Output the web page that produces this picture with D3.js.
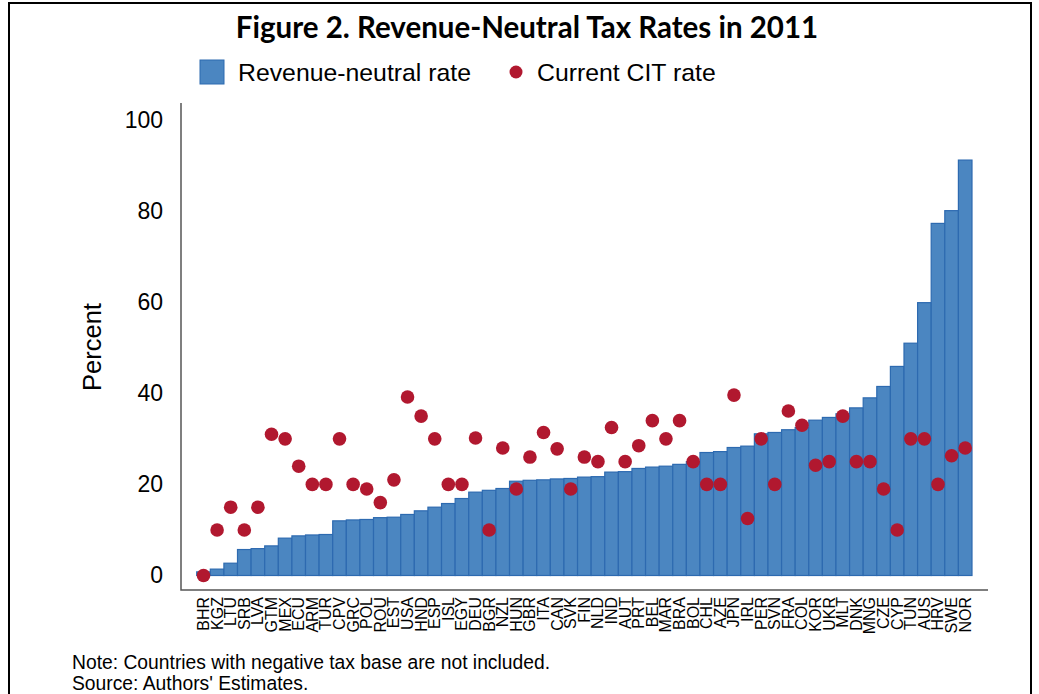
<!DOCTYPE html>
<html>
	<head>
		<meta charset="utf-8">
		<style type="text/css">
			body { margin: 0; background: white; }
			svg  { display: block; }
		</style>
		<title>Revenue-Neutral Tax Rates in 2011</title>
	</head>
	<body>
		<script src="https://cdn.jsdelivr.net/npm/d3@7/dist/d3.min.js"></script>
		<script>

// data //////////////////////////////////////////////////////////////////

var countries = ['BHR','KGZ','LTU','SRB','LVA','GTM','MEX','ECU','ARM','TUR',
	'CPV','GRC','POL','ROU','EST','USA','HND','ESP','ISL','EGY',
	'DEU','BGR','NZL','HUN','GBR','ITA','CAN','SVK','FIN','NLD',
	'IND','AUT','PRT','BEL','MAR','BRA','BOL','CHL','AZE','JPN',
	'IRL','PER','SVN','FRA','COL','KOR','UKR','MLT','DNK','MNG',
	'CZE','CYP','TUN','AUS','HRV','SWE','NOR'];

var neutral = [0.8, 1.4, 2.7, 5.7, 5.9, 6.5, 8.2, 8.7, 8.9, 9.0,
	12.0, 12.2, 12.3, 12.7, 12.8, 13.4, 14.2, 15.0, 15.8, 16.9,
	18.3, 18.7, 19.1, 20.7, 20.9, 21.0, 21.2, 21.3, 21.6, 21.7,
	22.7, 22.8, 23.5, 23.8, 24.0, 24.4, 25.0, 27.0, 27.2, 28.1,
	28.4, 31.1, 31.4, 32.0, 32.5, 34.1, 34.7, 35.5, 36.8, 39.0,
	41.5, 45.9, 51.0, 59.9, 77.3, 80.1, 91.2];

var cit = [0, 10, 15, 10, 15, 31, 30, 24, 20, 20,
	30, 20, 19, 16, 21, 39.2, 35, 30, 20, 20,
	30.2, 10, 28, 19, 26, 31.4, 27.8, 19, 26, 25,
	32.5, 25, 28.5, 34, 30, 34, 25, 20, 20, 39.6,
	12.5, 30, 20, 36.1, 33, 24.2, 25, 35, 25, 25,
	19, 10, 30, 30, 20, 26.3, 28];

var yTicks = [0, 20, 40, 60, 80, 100];

var data = countries.map((c, i) => ({country: c, neutral: neutral[i], cit: cit[i]}));

// layout ////////////////////////////////////////////////////////////////

var W = 1039, H = 694;
var blue = '#4b86c1', blueEdge = '#2d6ab0', red = '#b1182f';
var axisColor = '#555';

var svg = d3.select('body').append('svg')
	.attr('width', W)
	.attr('height', H)
	.style('font-family', '"Liberation Sans", Arial, sans-serif');

// frame
svg.append('path')
	.attr('d', `M9,${H} V3 H1031 V${H}`)
	.attr('fill', 'none')
	.attr('stroke', 'black')
	.attr('stroke-width', 2);

var x = d3.scaleBand()
	.domain(countries)
	.range([196.7, 972])
	.padding(0);

var y = d3.scaleLinear()
	.domain([0, 100])
	.range([575.5, 120]);

// title
svg.append('text')
	.attr('x', 527).attr('y', 38)
	.attr('text-anchor', 'middle')
	.attr('font-family', 'Lato, "Open Sans", sans-serif')
	.attr('font-weight', 'bold')
	.attr('font-size', 29.5)
	.text('Figure 2. Revenue-Neutral Tax Rates in 2011');

// legend
var legend = svg.append('g');
legend.append('rect')
	.attr('x', 200).attr('y', 60)
	.attr('width', 24).attr('height', 24)
	.attr('fill', blue).attr('stroke', blueEdge);
legend.append('text')
	.attr('x', 238).attr('y', 81)
	.attr('font-size', 24.8)
	.text('Revenue-neutral rate');
legend.append('circle')
	.attr('cx', 516).attr('cy', 72).attr('r', 6.5)
	.attr('fill', red);
legend.append('text')
	.attr('x', 537).attr('y', 81)
	.attr('font-size', 24.8)
	.text('Current CIT rate');

// axes //////////////////////////////////////////////////////////////////

svg.append('g')
	.attr('transform', 'translate(181,0)')
	.call(d3.axisLeft(y).tickValues(yTicks).tickSize(0).tickPadding(18))
	.call(g => g.select('.domain').remove())
	.call(g => g.selectAll('.tick text')
		.attr('font-size', 23)
		.attr('font-family', '"Liberation Sans", Arial, sans-serif')
		.attr('fill', 'black'));

svg.append('text')
	.attr('transform', 'translate(101,347) rotate(-90)')
	.attr('text-anchor', 'middle')
	.attr('font-size', 25.5)
	.text('Percent');

svg.append('g')
	.attr('transform', 'translate(0,590)')
	.call(d3.axisBottom(x).tickSize(0).tickPadding(0))
	.call(g => g.select('.domain').remove())
	.call(g => g.selectAll('.tick text')
		.attr('font-size', 16)
		.attr('font-family', '"Liberation Sans", Arial, sans-serif')
		.attr('fill', 'black')
		.attr('text-anchor', 'end')
		.attr('dy', null)
		.attr('y', 0)
		.attr('transform', 'translate(5.5,7) rotate(-90)'));

// bars & dots ///////////////////////////////////////////////////////////

svg.append('g')
	.selectAll('rect')
	.data(data)
	.join('rect')
		.attr('x', d => x(d.country))
		.attr('y', d => y(d.neutral))
		.attr('width', x.bandwidth())
		.attr('height', d => y(0) - y(d.neutral))
		.attr('fill', blue)
		.attr('stroke', blueEdge)
		.attr('stroke-width', 1.2);

svg.append('g')
	.selectAll('circle')
	.data(data)
	.join('circle')
		.attr('cx', d => x(d.country) + x.bandwidth() / 2)
		.attr('cy', d => y(d.cit))
		.attr('r', 6.8)
		.attr('fill', red);

// axis lines
svg.append('path')
	.attr('d', 'M181,103 V590 H988')
	.attr('fill', 'none')
	.attr('stroke', axisColor)
	.attr('stroke-width', 1.5);

// notes
svg.append('text')
	.attr('x', 72).attr('y', 669)
	.attr('font-size', 19.3)
	.text('Note: Countries with negative tax base are not included.');
svg.append('text')
	.attr('x', 72).attr('y', 690)
	.attr('font-size', 19.3)
	.text("Source: Authors' Estimates.");

		</script>
	</body>
</html>
